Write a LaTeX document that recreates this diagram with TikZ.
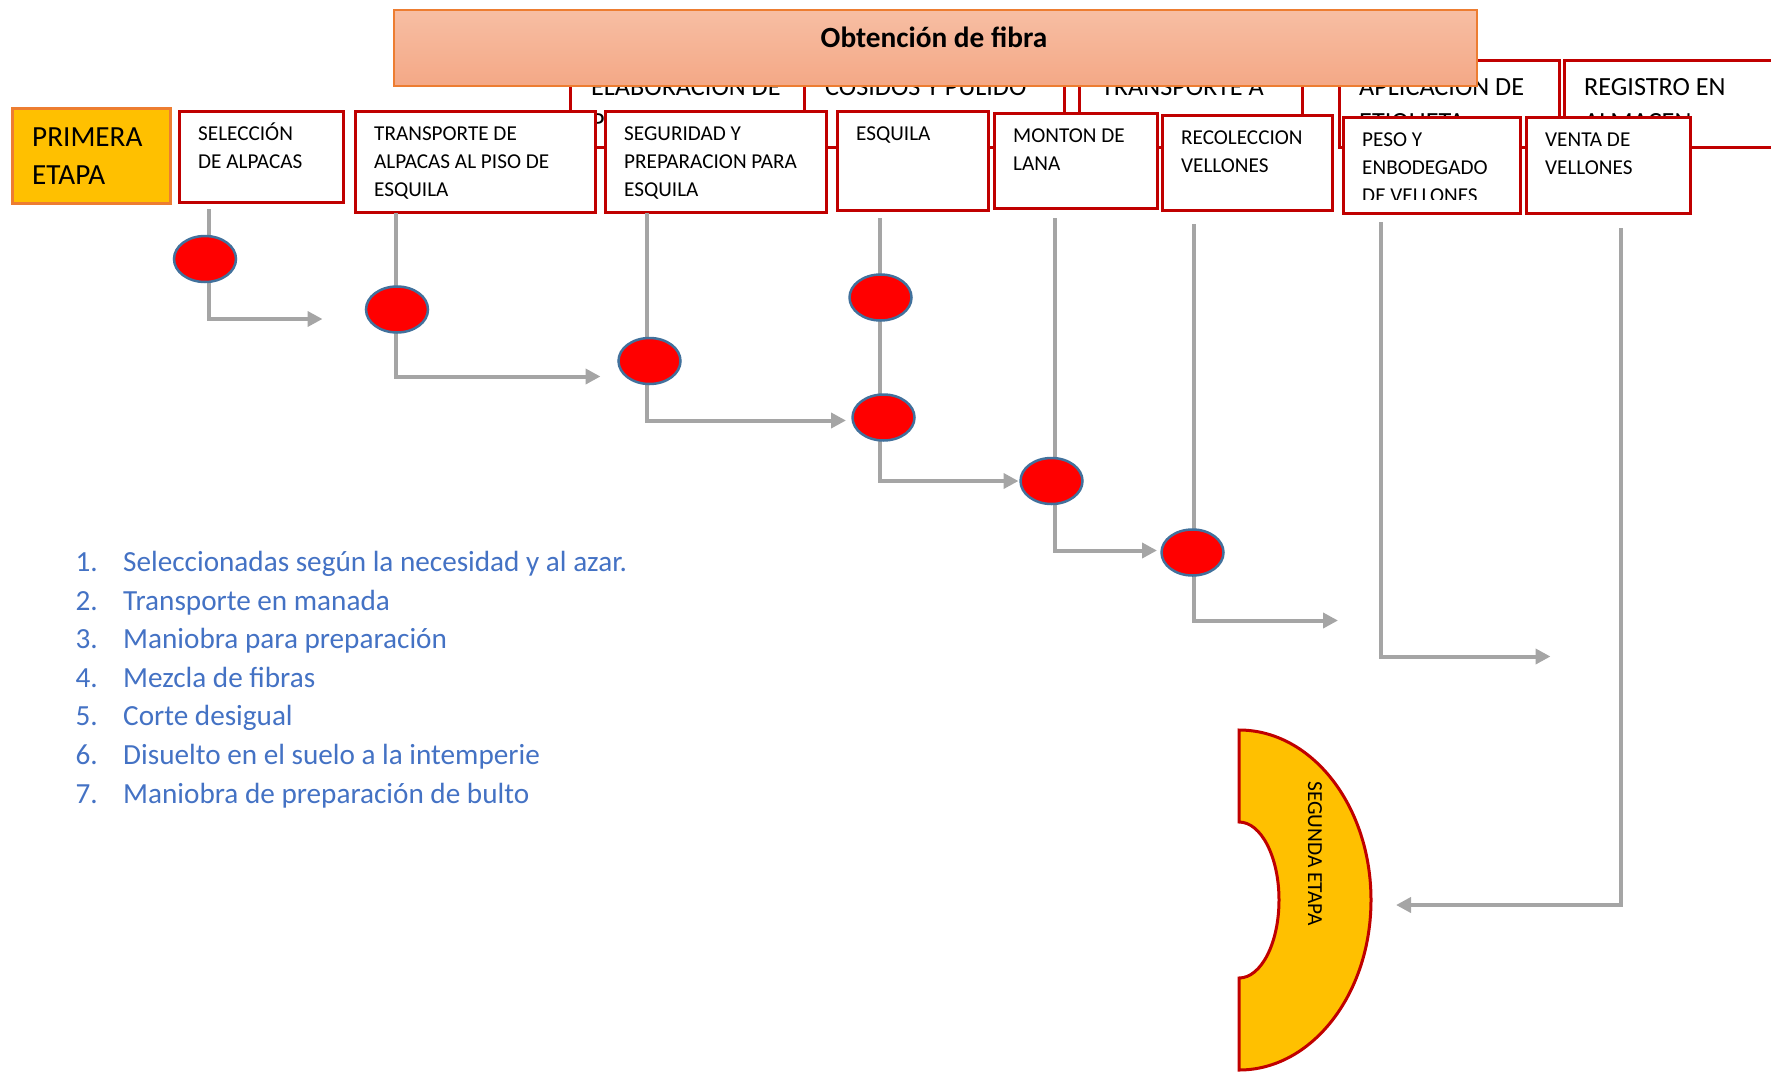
\documentclass[tikz,border=0pt]{standalone}
\usepackage{fontspec}
\setmainfont{Carlito}
\usetikzlibrary{arrows.meta,shapes.geometric}
\definecolor{rojo}{HTML}{C00000}
\definecolor{naranja}{HTML}{ED7D31}
\definecolor{oro}{HTML}{FFC000}
\definecolor{gris}{HTML}{A5A5A5}
\definecolor{azul}{HTML}{4472C4}
\definecolor{borde}{HTML}{41719C}
\definecolor{salmonA}{HTML}{F7BEA3}
\definecolor{salmonB}{HTML}{F4A886}
\begin{document}
\begin{tikzpicture}[x=1pt, y=-1pt,
    caja/.style={draw=rojo, line width=3pt, fill=white, inner sep=0pt, anchor=north west},
    atras/.style={font=\fontsize{26.2}{35}\selectfont, align=left, inner sep=0pt, anchor=north west},
    texto/.style={font=\fontsize{21.2}{28}\selectfont, align=left, inner sep=0pt, anchor=north west},
    circulo/.style={ellipse, draw=borde, line width=2.5pt, fill=red, minimum width=62pt, minimum height=46pt, inner sep=0pt},
    conector/.style={draw=gris, line width=4pt, -{Triangle[length=15pt, width=15pt]}},
    lista/.style={font=\fontsize{29.2}{38}\selectfont, text=azul, inner sep=0pt, anchor=base west}]

    \useasboundingbox (0,0) rectangle (1771,1071);

    % Fila de atras
    \node[caja, minimum width=237pt, minimum height=87pt] (elab) at (569,59) {};
    \node[atras] (telab) at ([xshift=22pt, yshift=-12pt]elab.north west) {\strut ELABORACION DE\\P};
    \node[caja, minimum width=260pt, minimum height=87pt] (cos) at (803,59) {};
    \node[atras] (tcos) at ([xshift=22pt, yshift=-12pt]cos.north west) {\strut COSIDOS Y PULIDO};
    \node[caja, minimum width=223pt, minimum height=87pt] (trans) at (1078,59) {};
    \node[atras] (ttrans) at ([xshift=23pt, yshift=-12pt]trans.north west) {\strut TRANSPORTE A};
    \node[caja, minimum width=220pt, minimum height=87pt] (apl) at (1338,59) {};
    \node[atras] (tapl) at ([xshift=21pt, yshift=-12pt]apl.north west) {\strut APLICACION DE\\ETIQUETA};
    \node[caja, minimum width=250pt, minimum height=87pt] (reg) at (1563,59) {};
    \node[atras] (treg) at ([xshift=21pt, yshift=-12pt]reg.north west) {\strut REGISTRO EN\\ALMACEN};

    % Titulo
    \node[draw=naranja, line width=2pt, top color=salmonA, bottom color=salmonB,
          minimum width=1083pt, minimum height=76pt, inner sep=0pt, anchor=north west] (titulo) at (393,9) {};
    \node[font=\bfseries\fontsize{29.3}{35}\selectfont, anchor=base] (ttitulo) at (934,47) {Obtención de fibra};

    % Primera etapa
    \node[draw=naranja, fill=oro, line width=3pt, minimum width=158pt, minimum height=95pt,
          inner sep=0pt, anchor=north west] (etapa1) at (11,107) {};
    \node[font=\fontsize{29.2}{38}\selectfont, align=left, inner sep=0pt, anchor=north west]
          (tetapa1) at (32,119.4) {\strut PRIMERA\\ETAPA};

    % Fila de delante
    \node[caja, minimum width=164pt, minimum height=91pt] (sel) at (178,110) {};
    \node[texto] (tsel) at ([xshift=20pt, yshift=-10.9pt]sel.north west) {\strut SELECCIÓN\\DE ALPACAS};
    \node[caja, minimum width=240pt, minimum height=101pt] (tra) at (354,110) {};
    \node[texto] (ttra) at ([xshift=20pt, yshift=-10.9pt]tra.north west) {\strut TRANSPORTE DE\\ALPACAS AL PISO DE\\ESQUILA};
    \node[caja, minimum width=221pt, minimum height=101pt] (seg) at (604,110) {};
    \node[texto] (tseg) at ([xshift=20pt, yshift=-10.9pt]seg.north west) {\strut SEGURIDAD Y\\PREPARACION PARA\\ESQUILA};
    \node[caja, minimum width=151pt, minimum height=99pt] (esq) at (836,110) {};
    \node[texto] (tesq) at ([xshift=20pt, yshift=-10.9pt]esq.north west) {\strut ESQUILA};
    \node[caja, minimum width=163pt, minimum height=95pt] (mon) at (993,112) {};
    \node[texto] (tmon) at ([xshift=20pt, yshift=-10.9pt]mon.north west) {\strut MONTON DE\\LANA};
    \node[caja, minimum width=170pt, minimum height=95pt] (rec) at (1161,114) {};
    \node[texto] (trec) at ([xshift=20pt, yshift=-10.9pt]rec.north west) {\strut RECOLECCION\\VELLONES};
    \node[caja, minimum width=177pt, minimum height=96pt] (pes) at (1342,116) {};
    \begin{scope}
        \clip (1342,116) rectangle (1519,199);
        \node[texto] (tpes) at ([xshift=20pt, yshift=-10.9pt]pes.north west) {\strut PESO Y\\ENBODEGADO\\DE VELLONES};
    \end{scope}
    \node[caja, minimum width=164pt, minimum height=96pt] (ven) at (1525,116) {};
    \node[texto] (tven) at ([xshift=20pt, yshift=-10.9pt]ven.north west) {\strut VENTA DE\\VELLONES};

    % Conectores
    \coordinate (s1) at (208.5,209);  \coordinate (t1) at (322.5,319);
    \coordinate (s2) at (396,213);    \coordinate (t2) at (600.5,376.5);
    \coordinate (s3) at (646.5,213);  \coordinate (t3) at (846,420.5);
    \coordinate (s4) at (880,218);    \coordinate (t4) at (1018.5,481);
    \coordinate (s5) at (1054.5,218); \coordinate (t5) at (1157,550.5);
    \coordinate (s6) at (1193.5,224); \coordinate (t6) at (1338,620.5);
    \coordinate (s7) at (1381,222);   \coordinate (t7) at (1550.5,656.5);
    \coordinate (s8) at (1620.5,228); \coordinate (t8) at (1396,905);
    \foreach \k in {1,...,8}
        \draw[conector] (s\k) |- (t\k);

    % Circulos
    \node[circulo] (c1) at (205,259) {};
    \node[circulo] (c2) at (397,309.5) {};
    \node[circulo] (c3) at (649.5,361) {};
    \node[circulo] (c4) at (880.5,297.5) {};
    \node[circulo] (c5) at (883.5,417.5) {};
    \node[circulo] (c6) at (1051.5,481) {};
    \node[circulo] (c7) at (1192.5,552.5) {};

    % Lista
    \foreach \frase [count=\i] in {Seleccionadas según la necesidad y al azar., Transporte en manada,
        Maniobra para preparación, Mezcla de fibras, Corte desigual,
        Disuelto en el suelo a la intemperie, Maniobra de preparación de bulto} {
        \node[lista] (num\i) at (75.3,{571.7+38.55*(\i-1)}) {\i.};
        \node[lista] (frase\i) at (123,{571.7+38.55*(\i-1)}) {\frase};
    }

    % Segunda etapa
    \draw[draw=rojo, fill=oro, line width=3pt] (1239,730)
        arc[start angle=90, end angle=-90, x radius=132pt, y radius=170pt] -- (1239,978)
        arc[start angle=-90, end angle=90, x radius=40pt, y radius=78pt] -- cycle;
    \node[rotate=-90, font=\fontsize{21.4}{26}\selectfont, inner sep=0pt] (tetapa2) at (1315,853.5) {SEGUNDA ETAPA};
\end{tikzpicture}
\end{document}
